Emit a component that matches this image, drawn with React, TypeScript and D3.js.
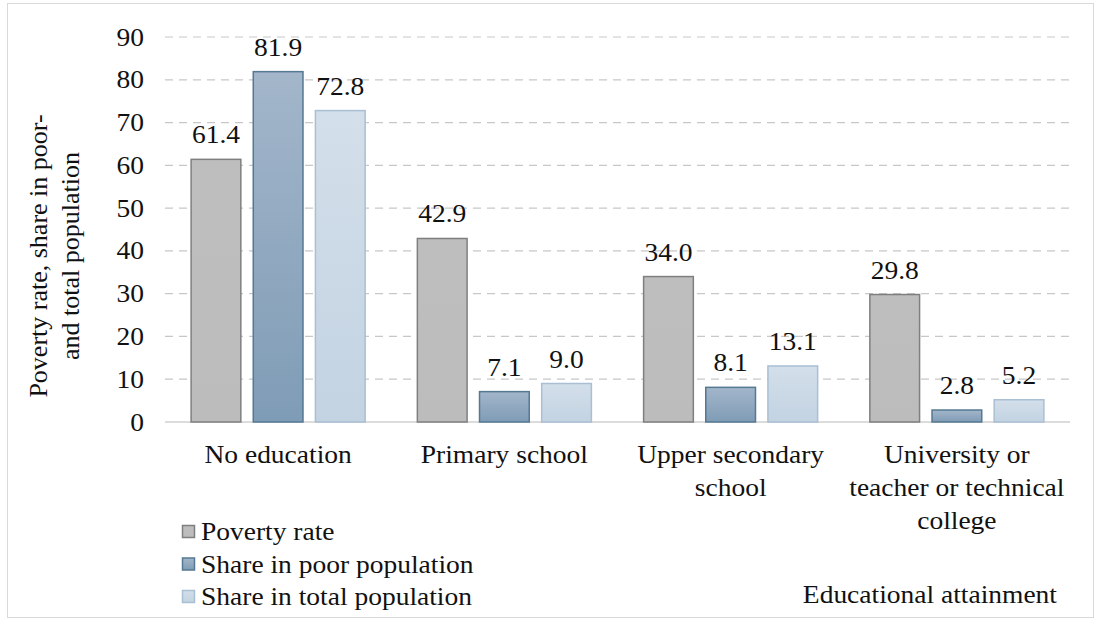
import React from "react";
import * as d3 from "d3";

const categories = [
  ["No education"],
  ["Primary school"],
  ["Upper secondary", "school"],
  ["University or", "teacher or technical", "college"],
];
const seriesNames = ["Poverty rate", "Share in poor population", "Share in total population"];
const povertyRate = [61.4, 42.9, 34.0, 29.8];
const sharePoor = [81.9, 7.1, 8.1, 2.8];
const shareTotal = [72.8, 9.0, 13.1, 5.2];
const yTicks = [0, 10, 20, 30, 40, 50, 60, 70, 80, 90];

const W = 1096, H = 623;
const FONT = '"Liberation Serif", serif';
const SX = 1.1;
const FS = 25;

function T({ x, y, anchor = "start", children }: any) {
  return (
    <text transform={`translate(${x},${y}) scale(${SX},1)`} textAnchor={anchor} fontSize={FS} fill="#111" fontFamily={FONT}>
      {children}
    </text>
  );
}

export default function App() {
  const series = [povertyRate, sharePoor, shareTotal];
  const fills = ["url(#g0)", "url(#g1)", "url(#g2)"];
  const strokes = ["#7f7f7f", "#557893", "#a9bfd3"];
  const x0 = d3.scaleBand<number>().domain(d3.range(categories.length)).range([165, 1070]);
  const x1 = d3.scaleBand<number>().domain([0, 1, 2]).range([0, x0.bandwidth()]).paddingInner(0.2).paddingOuter(0.42);
  const y = d3.scaleLinear().domain([0, 90]).range([422, 37]);
  return (
    <div style={{ fontFamily: FONT }}>
      <svg width={W} height={H} style={{ position: "absolute", left: 0, top: 0 }} fontFamily={FONT}>
        <defs>
          <linearGradient id="g0" x1="0" y1="0" x2="0" y2="1">
            <stop offset="0" stopColor="#bebebe" />
            <stop offset="1" stopColor="#bcbcbc" />
          </linearGradient>
          <linearGradient id="g1" x1="0" y1="0" x2="0" y2="1">
            <stop offset="0" stopColor="#a3b6ca" />
            <stop offset="1" stopColor="#7f9cb6" />
          </linearGradient>
          <linearGradient id="g2" x1="0" y1="0" x2="0" y2="1">
            <stop offset="0" stopColor="#d3dfea" />
            <stop offset="1" stopColor="#c3d3e2" />
          </linearGradient>
        </defs>
        <rect x={7.5} y={3.5} width={1086} height={614} fill="#fff" stroke="#d9d9d9" />
        {yTicks.map((t) => (
          <g key={t}>
            {t > 0 && (
              <line x1={165} x2={1070} y1={y(t)} y2={y(t)} stroke="#c8c8c8" strokeWidth={1.2} strokeDasharray="8 6" />
            )}
            <T x={144} y={y(t) + 8.5} anchor="end">{t}</T>
          </g>
        ))}
        <line x1={165} x2={1070} y1={y(0)} y2={y(0)} stroke="#d0d0d0" strokeWidth={1.5} />
        {categories.map((c, i) => (
          <g key={i}>
            {series.map((s, j) => {
              const bx = x0(i)! + x1(j)!;
              const bw = x1.bandwidth();
              return (
                <g key={j}>
                  <rect x={bx} y={y(s[i])} width={bw} height={y(0) - y(s[i])} fill={fills[j]} stroke={strokes[j]} strokeWidth={1.5} />
                  <T x={bx + bw / 2} y={y(s[i]) - 16} anchor="middle">{s[i].toFixed(1)}</T>
                </g>
              );
            })}
            {c.map((line, k) => (
              <T key={k} x={x0(i)! + x0.bandwidth() / 2} y={463 + k * 33} anchor="middle">{line}</T>
            ))}
          </g>
        ))}
        <text transform="translate(47,256) rotate(-90)" textAnchor="middle" fontSize={26} fill="#111" fontFamily={FONT}>
          <tspan x={0} y={0}>Poverty rate, share in poor-</tspan>
          <tspan x={0} y={32}>and total population</tspan>
        </text>
        {seriesNames.map((n, j) => (
          <g key={n}>
            <rect x={182.5} y={525.5 + j * 32.5} width={12} height={12} fill={fills[j]} stroke={strokes[j]} strokeWidth={1.5} />
            <T x={201} y={540 + j * 32.5}>{n}</T>
          </g>
        ))}
        <T x={1057} y={603} anchor="end">Educational attainment</T>
      </svg>
    </div>
  );
}
